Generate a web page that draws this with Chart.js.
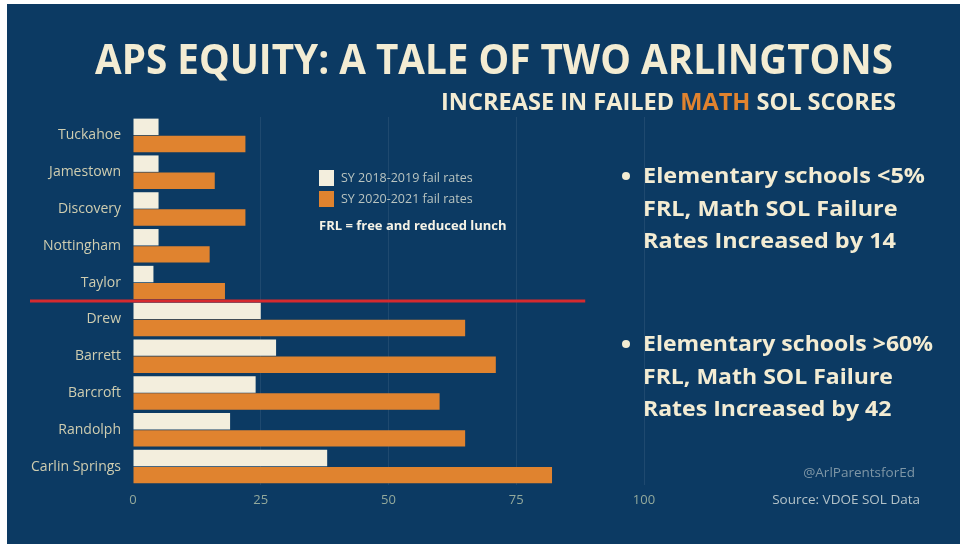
<!DOCTYPE html>
<html>
<head>
<meta charset="utf-8">
<script src="https://cdn.jsdelivr.net/npm/chart.js@4.4.1/dist/chart.umd.min.js"></script>
<style>
    html, body { margin: 0; padding: 0; background: #ffffff; }
    .page {
        position: relative;
        width: 960px;
        height: 544px;
        overflow: hidden;
        background: #ffffff;
        font-family: "Open Sans", sans-serif;
    }
    .panel {
        position: absolute;
        left: 7px; top: 4px; right: 0; bottom: 0;
        background: #0c3a63;
    }
    #chart { position: absolute; left: 0; top: 0; }
    .title {
        position: absolute;
        left: 95px; top: 32px;
        font-weight: 700;
        font-size: 42px;
        line-height: 52px;
        color: #f3ecd3;
        white-space: nowrap;
        transform-origin: 0 0;
    }
    .subtitle {
        position: absolute;
        left: 441px; top: 86px;
        font-weight: 700;
        font-size: 24px;
        line-height: 30px;
        color: #f3ecd3;
        white-space: nowrap;
        transform-origin: 0 0;
    }
    .subtitle .math { color: #e0832f; }
    .legend {
        position: absolute;
        left: 319px; top: 167px;
        color: #b9c4c0;
        font-size: 12.5px;
    }
    .legend .row { display: flex; align-items: center; height: 21px; }
    .legend .sw { width: 15px; height: 16px; margin-right: 7px; }
    .legend .frl {
        margin-top: 7px;
        font-weight: 700;
        font-size: 13px;
        color: #f5f2e6;
    }
    .bullets {
        position: absolute;
        left: 620px;
        color: #f3ecd3;
        font-weight: 700;
        font-size: 21px;
        line-height: 32.5px;
    }
    .bullets .dot {
        position: absolute;
        left: 2px; top: 13px;
        width: 8px; height: 8px;
        border-radius: 50%;
        background: #f3ecd3;
    }
    .bullets .txt {
        position: absolute;
        left: 23px; top: 0;
        white-space: nowrap;
        transform-origin: 0 0;
    }
    .credit {
        position: absolute;
        font-size: 13.5px;
        white-space: nowrap;
    }
</style>
</head>
<body>
<div class="page">
    <div class="panel"></div>
    <canvas id="chart" width="960" height="544"></canvas>
    <div class="title" id="title">APS EQUITY: A TALE OF TWO ARLINGTONS</div>
    <div class="subtitle" id="subtitle">INCREASE IN FAILED <span class="math">MATH</span> SOL SCORES</div>
    <div class="legend">
        <div class="row"><div class="sw" style="background:#f3eedd"></div>SY 2018-2019 fail rates</div>
        <div class="row"><div class="sw" style="background:#e0832f"></div>SY 2020-2021 fail rates</div>
        <div class="frl">FRL = free and reduced lunch</div>
    </div>
    <div class="bullets" style="top:159px">
        <div class="dot"></div>
        <div class="txt" id="b1">Elementary schools &lt;5%<br>FRL, Math SOL Failure<br>Rates Increased by 14</div>
    </div>
    <div class="bullets" style="top:327px">
        <div class="dot"></div>
        <div class="txt" id="b2">Elementary schools &gt;60%<br>FRL, Math SOL Failure<br>Rates Increased by 42</div>
    </div>
    <div class="credit" style="top:463px; right:45px; color:#7e96a6">@ArlParentsforEd</div>
    <div class="credit" style="top:490px; right:40px; color:#b3c2c8">Source: VDOE SOL Data</div>
</div>
<script>
    const schools = ['Tuckahoe', 'Jamestown', 'Discovery', 'Nottingham', 'Taylor',
        'Drew', 'Barrett', 'Barcroft', 'Randolph', 'Carlin Springs'];
    const fail2019 = [5, 5, 5, 5, 4, 25, 28, 24, 19, 38];
    const fail2021 = [22, 16, 22, 15, 18, 65, 71, 60, 65, 82];
    const xTicks = [0, 25, 50, 75, 100];
    const splitAfter = 4; // red line between low-FRL and high-FRL groups

    // stretch text blocks to the width they have in the poster
    function fitWidth(id, target) {
        const el = document.getElementById(id);
        const w = el.getBoundingClientRect().width;
        el.style.transform = 'scaleX(' + (target / w) + ')';
    }
    fitWidth('title', 798);
    fitWidth('subtitle', 455);
    fitWidth('b1', 282);
    fitWidth('b2', 290);

    const splitLine = {
        id: 'splitLine',
        afterDatasetsDraw(chart) {
            const y = chart.scales.y;
            const x = chart.scales.x;
            const yPos = (y.getPixelForValue(splitAfter) + y.getPixelForValue(splitAfter + 1)) / 2;
            const ctx = chart.ctx;
            ctx.save();
            ctx.strokeStyle = '#d62a2f';
            ctx.lineWidth = 3;
            ctx.beginPath();
            ctx.moveTo(chart.chartArea.left - 103, yPos);
            ctx.lineTo(x.getPixelForValue(88.5), yPos);
            ctx.stroke();
            ctx.restore();
        }
    };

    new Chart(document.getElementById('chart'), {
        type: 'bar',
        data: {
            labels: schools,
            datasets: [{
                label: 'SY 2018-2019 fail rates',
                data: fail2019,
                backgroundColor: '#f3eedd',
                borderWidth: 0,
                categoryPercentage: 0.93,
                barPercentage: 0.96
            }, {
                label: 'SY 2020-2021 fail rates',
                data: fail2021,
                backgroundColor: '#e0832f',
                borderWidth: 0,
                categoryPercentage: 0.93,
                barPercentage: 0.96
            }]
        },
        options: {
            indexAxis: 'y',
            responsive: false,
            animation: false,
            layout: { padding: { left: 20, top: 117, right: 316, bottom: 29 } },
            plugins: {
                legend: { display: false },
                tooltip: { enabled: false }
            },
            scales: {
                x: {
                    min: 0,
                    max: 100,
                    afterBuildTicks: (scale) => {
                        scale.ticks = xTicks.map(v => ({ value: v }));
                    },
                    afterFit: (scale) => { scale.height = 30; },
                    border: { display: false },
                    grid: {
                        color: (c) => c.tick && c.tick.value === 0 ? 'rgba(0,0,0,0)' : 'rgba(255,255,255,0.08)',
                        drawTicks: false
                    },
                    ticks: {
                        color: '#93a99c',
                        padding: 7,
                        font: { family: 'Open Sans', size: 13 }
                    }
                },
                y: {
                    afterFit: (scale) => { scale.width = 113; },
                    border: { display: false },
                    grid: { display: false, drawTicks: false },
                    ticks: {
                        color: '#cfcdb0',
                        padding: 12,
                        font: { family: 'Open Sans', size: 14 }
                    }
                }
            }
        },
        plugins: [splitLine]
    });
</script>
</body>
</html>
